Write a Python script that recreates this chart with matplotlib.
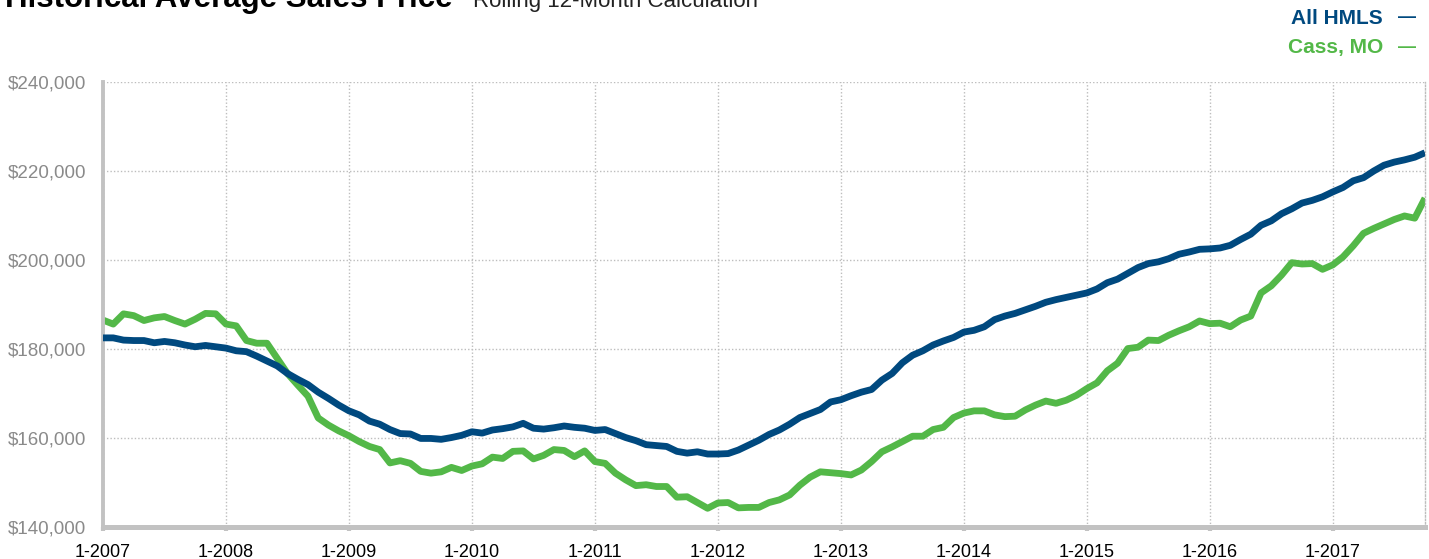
import matplotlib
matplotlib.use("Agg")
import matplotlib.pyplot as plt
import numpy as np

plt.rcParams['font.family'] = ['Liberation Sans', 'DejaVu Sans']

# Monthly data, Jan 2007 .. Oct 2017
all_hmls = [
    182500, 182500, 182000, 181900, 181900, 181400, 181700, 181400, 180900, 180500, 180800, 180500,
    180200, 179600, 179400, 178400, 177300, 176200, 174500, 173200, 172000, 170300, 168900, 167400,
    166100, 165200, 163800, 163100, 161900, 161000, 160900, 159900, 159900, 159700, 160100, 160600,
    161400, 161100, 161800, 162100, 162500, 163300, 162200, 162000, 162300, 162700, 162400, 162200,
    161700, 161900, 161000, 160100, 159400, 158500, 158300, 158100, 157000, 156600, 156900, 156400,
    156400, 156500, 157300, 158400, 159500, 160800, 161800, 163100, 164600, 165500, 166400, 168100,
    168600, 169500, 170300, 170900, 173000, 174500, 176900, 178600, 179600, 180900, 181800, 182600,
    183800, 184200, 185000, 186600, 187400, 188000, 188800, 189600, 190500, 191100, 191600, 192100,
    192600, 193500, 194900, 195700, 197000, 198300, 199200, 199600, 200300, 201300, 201800, 202400,
    202500, 202700, 203300, 204600, 205800, 207800, 208800, 210400, 211500, 212800, 213400, 214200,
    215300, 216300, 217800, 218500, 220000, 221300, 222000, 222500, 223100, 224100,
]
cass_mo = [
    186500, 185600, 187900, 187500, 186400, 187000, 187300, 186400, 185600, 186700, 188000, 187900,
    185600, 185200, 181900, 181300, 181300, 177900, 174500, 171900, 169400, 164500, 162900, 161600,
    160500, 159200, 158100, 157400, 154400, 154900, 154300, 152500, 152100, 152400, 153400, 152700,
    153700, 154200, 155700, 155400, 157000, 157100, 155300, 156100, 157400, 157200, 155800, 157100,
    154700, 154300, 152100, 150600, 149300, 149500, 149100, 149100, 146700, 146800, 145500, 144200,
    145400, 145500, 144300, 144400, 144400, 145500, 146100, 147200, 149400, 151200, 152400, 152200,
    152000, 151700, 152800, 154700, 156900, 158000, 159200, 160400, 160400, 161900, 162400, 164600,
    165600, 166100, 166100, 165200, 164800, 164900, 166300, 167400, 168300, 167800, 168500, 169600,
    171100, 172400, 175100, 176800, 180100, 180400, 182000, 181900, 183100, 184100, 185000, 186300,
    185700, 185800, 185000, 186500, 187400, 192600, 194200, 196600, 199400, 199100, 199200, 197900,
    198900, 200700, 203200, 206000, 207100, 208100, 209100, 209900, 209400, 213900,
]
tick_labels = ["1-2007", "1-2008", "1-2009", "1-2010", "1-2011", "1-2012",
               "1-2013", "1-2014", "1-2015", "1-2016", "1-2017"]
y_ticks = [140000, 160000, 180000, 200000, 220000, 240000]
series_names = ["All HMLS", "Cass, MO"]

BLUE = "#00497F"
GREEN = "#53B848"
GRID = "#BDBDBD"
SPINE = "#C2C2C2"

W, H = 1429, 559
fig = plt.figure(figsize=(W / 100, H / 100), dpi=100)
ax = fig.add_axes([103 / W, 1 - 527 / H, (1425 - 103) / W, (527 - 82) / H])

x = np.arange(len(all_hmls))
ax.plot(x, all_hmls, color=BLUE, lw=4.9, solid_joinstyle='round', solid_capstyle='butt', zorder=3)
ax.plot(x, cass_mo, color=GREEN, lw=4.9, solid_joinstyle='round', solid_capstyle='butt', zorder=2)

ax.set_xlim(0, len(all_hmls) - 1)
ax.set_ylim(140000, 240000)
ax.set_xticks(np.arange(len(tick_labels)) * 12)
ax.set_xticklabels(tick_labels)
ax.set_yticks(y_ticks)
ax.set_yticklabels(["${:,}".format(v) for v in y_ticks])

ax.grid(True, color=GRID, linestyle=(0, (1, 1.5)), linewidth=1.0, zorder=0)
ax.set_axisbelow(True)

ax.spines["top"].set_visible(False)
ax.spines["right"].set_color(GRID)
ax.spines["right"].set_linestyle((0, (1, 1.5)))
ax.spines["right"].set_linewidth(1.0)
ax.spines["left"].set_color(SPINE)
ax.spines["left"].set_linewidth(2.8)
ax.spines["bottom"].set_color(SPINE)
ax.spines["bottom"].set_linewidth(3.6)
ax.spines["bottom"].set_zorder(4)

ax.tick_params(axis='x', direction='out', length=3, width=3, color=SPINE,
               labelsize=13, labelcolor="black", pad=9)
ax.tick_params(axis='y', length=0, labelsize=13.5, labelcolor="#8A8A8A", pad=12)

fig.text(5 / W, 1 - 7 / H, "Historical Average Sales Price", fontsize=22.5,
         fontweight='bold', color="black", ha='left', va='baseline')
fig.text(473 / W, 1 - 7 / H, "Rolling 12-Month Calculation", fontsize=16,
         color="#222222", ha='left', va='baseline')

fig.text(1383 / W, 1 - 18 / H, series_names[0], fontsize=15, fontweight='bold',
         color=BLUE, ha='right', va='center')
fig.text(1398 / W, 1 - 18 / H, "\u2014", fontsize=13, fontweight='bold',
         color=BLUE, ha='left', va='center')
fig.text(1383 / W, 1 - 47 / H, series_names[1], fontsize=15, fontweight='bold',
         color=GREEN, ha='right', va='center')
fig.text(1398 / W, 1 - 47 / H, "\u2014", fontsize=13, fontweight='bold',
         color=GREEN, ha='left', va='center')

fig.savefig("out.png", dpi=100)
